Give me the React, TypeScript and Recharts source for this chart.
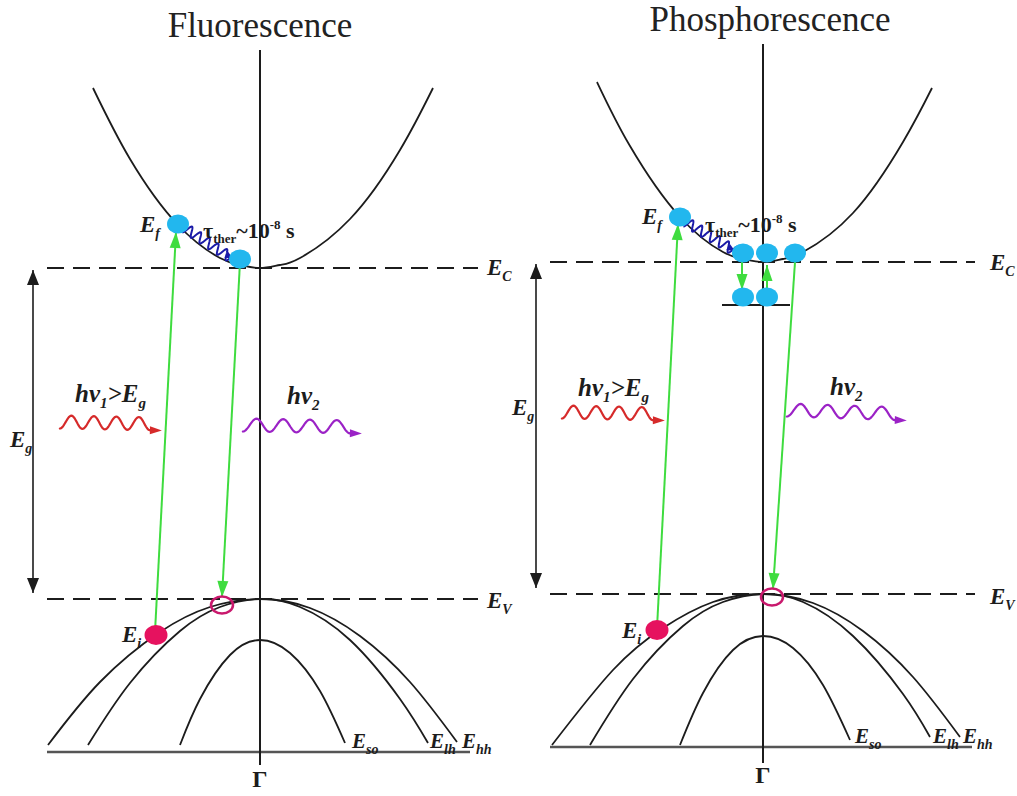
import React from 'react';
import { ComposedChart, Line, Scatter, XAxis, YAxis } from 'recharts';

type Pt = { k: number; E: number };
type Seg = { from: Pt; to: Pt };
type Lab = { k: number; E: number; kind: string; text: string; sub?: string };

// ---------------- Fluorescence panel (k = wave vector, E = energy, Ev = 0) ----------------
const fluoConduction: Pt[] = [
  { k: -1.67, E: 5.11 }, { k: -1.3, E: 4.4 }, { k: -0.82, E: 3.74 }, { k: -0.4, E: 3.41 },
  { k: -0.2, E: 3.34 }, { k: 0, E: 3.31 }, { k: 0.2, E: 3.34 }, { k: 0.4, E: 3.41 },
  { k: 0.9, E: 3.8 }, { k: 1.4, E: 4.49 }, { k: 1.73, E: 5.11 },
];
const fluoHeavyHole: Pt[] = [
  { k: -2.12, E: -1.46 }, { k: -1.6, E: -0.83 }, { k: -1.0, E: -0.33 }, { k: -0.5, E: -0.08 },
  { k: 0, E: 0 }, { k: 0.5, E: -0.09 }, { k: 1.0, E: -0.37 }, { k: 1.5, E: -0.83 }, { k: 1.97, E: -1.43 },
];
const fluoLightHole: Pt[] = [
  { k: -1.72, E: -1.46 }, { k: -1.3, E: -0.84 }, { k: -0.8, E: -0.32 }, { k: -0.4, E: -0.08 },
  { k: 0, E: 0 }, { k: 0.4, E: -0.08 }, { k: 0.9, E: -0.41 }, { k: 1.4, E: -1.0 }, { k: 1.68, E: -1.44 },
];
const fluoSplitOff: Pt[] = [
  { k: -0.8, E: -1.46 }, { k: -0.6, E: -1.0 }, { k: -0.3, E: -0.56 }, { k: 0, E: -0.41 },
  { k: 0.3, E: -0.54 }, { k: 0.6, E: -0.92 }, { k: 0.85, E: -1.44 },
];
const fluoEc = 3.31;
const fluoEv = 0;
const fluoLevelSpan = [-2.13, 2.18];
const fluoBaseline: Seg = { from: { k: -2.13, E: -1.53 }, to: { k: 2.1, E: -1.53 } };
const fluoGamma: Seg = { from: { k: 0, E: 5.49 }, to: { k: 0, E: -1.66 } };
const fluoGap: Seg = { from: { k: -2.27, E: 3.29 }, to: { k: -2.27, E: 0.06 } };
const fluoElectrons: Pt[] = [{ k: -0.82, E: 3.75 }, { k: -0.2, E: 3.4 }];
const fluoInitial: Pt[] = [{ k: -1.04, E: -0.36 }];
const fluoHoles: Pt[] = [{ k: -0.38, E: -0.06 }];
const fluoTransitions: Seg[] = [
  { from: { k: -1.05, E: -0.33 }, to: { k: -0.84, E: 3.67 } },
  { from: { k: -0.2, E: 3.37 }, to: { k: -0.38, E: 0.02 } },
];
const fluoRelax: Seg[] = [{ from: { k: -0.75, E: 3.71 }, to: { k: -0.27, E: 3.4 } }];
const fluoPhotonIn: Seg[] = [{ from: { k: -2.0, E: 1.77 }, to: { k: -0.98, E: 1.75 } }];
const fluoPhotonOut: Seg[] = [{ from: { k: -0.17, E: 1.74 }, to: { k: 1.02, E: 1.72 } }];
const fluoTraps: Seg[] = [];
const fluoLabels: Lab[] = [
  { k: 0, E: 5.62, kind: 'title', text: 'Fluorescence' },
  { k: 0, E: -1.88, kind: 'gamma', text: 'Γ' },
  { k: 2.27, E: 3.24, kind: 'E', text: 'E', sub: 'C' },
  { k: 2.27, E: -0.09, kind: 'E', text: 'E', sub: 'V' },
  { k: -2.5, E: 1.52, kind: 'E', text: 'E', sub: 'g' },
  { k: -1.2, E: 3.67, kind: 'E', text: 'E', sub: 'f' },
  { k: -1.38, E: -0.43, kind: 'E', text: 'E', sub: 'i' },
  { k: 0.92, E: -1.49, kind: 'Es', text: 'E', sub: 'so' },
  { k: 1.7, E: -1.49, kind: 'Es', text: 'E', sub: 'lh' },
  { k: 2.02, E: -1.49, kind: 'Es', text: 'E', sub: 'hh' },
  { k: -1.85, E: 1.97, kind: 'hv1', text: 'hv' },
  { k: 0.27, E: 1.95, kind: 'hv2', text: 'hv' },
  { k: -0.57, E: 3.61, kind: 'tau', text: 'τ' },
];

// ---------------- Phosphorescence panel ----------------
const phosConduction: Pt[] = [
  { k: -1.66, E: 5.12 }, { k: -1.33, E: 4.48 }, { k: -0.83, E: 3.77 }, { k: -0.4, E: 3.42 },
  { k: -0.2, E: 3.35 }, { k: 0, E: 3.32 }, { k: 0.2, E: 3.35 }, { k: 0.4, E: 3.42 },
  { k: 0.9, E: 3.81 }, { k: 1.4, E: 4.52 }, { k: 1.69, E: 5.06 },
];
const phosHeavyHole: Pt[] = [
  { k: -2.11, E: -1.51 }, { k: -1.5, E: -0.76 }, { k: -1.0, E: -0.34 }, { k: -0.5, E: -0.08 },
  { k: 0, E: 0 }, { k: 0.5, E: -0.09 }, { k: 1.0, E: -0.37 }, { k: 1.5, E: -0.83 }, { k: 1.97, E: -1.43 },
];
const phosLightHole: Pt[] = [
  { k: -1.73, E: -1.51 }, { k: -1.3, E: -0.85 }, { k: -0.8, E: -0.32 }, { k: -0.4, E: -0.08 },
  { k: 0, E: 0 }, { k: 0.4, E: -0.08 }, { k: 0.9, E: -0.42 }, { k: 1.4, E: -1.0 }, { k: 1.67, E: -1.43 },
];
const phosSplitOff: Pt[] = [
  { k: -0.83, E: -1.51 }, { k: -0.6, E: -0.99 }, { k: -0.3, E: -0.56 }, { k: 0, E: -0.42 },
  { k: 0.3, E: -0.54 }, { k: 0.6, E: -0.91 }, { k: 0.87, E: -1.46 },
];
const phosEc = 3.32;
const phosEv = 0;
const phosLevelSpan = [-2.13, 2.12];
const phosBaseline: Seg = { from: { k: -2.13, E: -1.53 }, to: { k: 2.09, E: -1.53 } };
const phosGamma: Seg = { from: { k: 0, E: 5.5 }, to: { k: 0, E: -1.69 } };
const phosGap: Seg = { from: { k: -2.27, E: 3.3 }, to: { k: -2.27, E: 0.06 } };
const phosElectrons: Pt[] = [
  { k: -0.83, E: 3.77 }, { k: -0.2, E: 3.41 }, { k: 0.04, E: 3.41 }, { k: 0.32, E: 3.41 },
  { k: -0.2, E: 2.97 }, { k: 0.04, E: 2.97 },
];
const phosInitial: Pt[] = [{ k: -1.06, E: -0.36 }];
const phosHoles: Pt[] = [{ k: 0.09, E: -0.03 }];
const phosTransitions: Seg[] = [
  { from: { k: -1.06, E: -0.34 }, to: { k: -0.85, E: 3.7 } },
  { from: { k: 0.32, E: 3.32 }, to: { k: 0.1, E: 0.05 } },
  { from: { k: -0.21, E: 3.32 }, to: { k: -0.21, E: 3.04 } },
  { from: { k: 0.04, E: 3.0 }, to: { k: 0.04, E: 3.29 } },
];
const phosRelax: Seg[] = [{ from: { k: -0.77, E: 3.72 }, to: { k: -0.28, E: 3.43 } }];
const phosPhotonIn: Seg[] = [{ from: { k: -2.01, E: 1.82 }, to: { k: -0.98, E: 1.8 } }];
const phosPhotonOut: Seg[] = [{ from: { k: 0.24, E: 1.84 }, to: { k: 1.44, E: 1.8 } }];
const phosTraps: Seg[] = [{ from: { k: -0.41, E: 2.89 }, to: { k: 0.27, E: 2.89 } }];
const phosLabels: Lab[] = [
  { k: 0.07, E: 5.63, kind: 'title', text: 'Phosphorescence' },
  { k: 0, E: -1.89, kind: 'gamma', text: 'Γ' },
  { k: 2.27, E: 3.24, kind: 'E', text: 'E', sub: 'C' },
  { k: 2.27, E: -0.1, kind: 'E', text: 'E', sub: 'V' },
  { k: -2.51, E: 1.79, kind: 'E', text: 'E', sub: 'g' },
  { k: -1.21, E: 3.7, kind: 'E', text: 'E', sub: 'f' },
  { k: -1.41, E: -0.44, kind: 'E', text: 'E', sub: 'i' },
  { k: 0.92, E: -1.49, kind: 'Es', text: 'E', sub: 'so' },
  { k: 1.7, E: -1.49, kind: 'Es', text: 'E', sub: 'lh' },
  { k: 2.0, E: -1.49, kind: 'Es', text: 'E', sub: 'hh' },
  { k: -1.85, E: 1.98, kind: 'hv1', text: 'hv' },
  { k: 0.67, E: 1.99, kind: 'hv2', text: 'hv' },
  { k: -0.58, E: 3.62, kind: 'tau', text: 'τ' },
];

// ---------------- styling / helpers ----------------
const H = 796;
const E_DOMAIN: [number, number] = [-1.97, 5.99];
const SERIF = "'Liberation Serif', 'Times New Roman', Times, serif";
const INK = '#1c1c1c';
const GREEN = '#3fdc3f';
const CYAN = '#22b7ee';
const MAGENTA = '#e6125f';
const RED = '#d62a2a';
const PURPLE = '#9b22c6';
const BLUE = '#1b1ba8';

type XY = { x: number; y: number };

function headPoly(tip: XY, from: XY, len: number, half: number) {
  const dx = tip.x - from.x;
  const dy = tip.y - from.y;
  const L = Math.hypot(dx, dy) || 1;
  const ux = dx / L, uy = dy / L;
  const nx = -uy, ny = ux;
  const bx = tip.x - ux * len, by = tip.y - uy * len;
  return `${tip.x},${tip.y} ${bx + nx * half},${by + ny * half} ${bx - nx * half},${by - ny * half}`;
}

function wavy(a: XY, b: XY, amp: number, periods: number) {
  const dx = b.x - a.x, dy = b.y - a.y;
  const L = Math.hypot(dx, dy) || 1;
  const ux = dx / L, uy = dy / L;
  const nx = -uy, ny = ux;
  const steps = Math.round(periods * 28);
  let d = '';
  let end: XY = a;
  for (let i = 0; i <= steps; i++) {
    const t = i / steps;
    const o = amp * Math.cos(2 * Math.PI * periods * t);
    const x = a.x + ux * L * t + nx * o;
    const y = a.y + uy * L * t + ny * o;
    d += (i === 0 ? 'M' : 'L') + x.toFixed(2) + ',' + y.toFixed(2);
    end = { x, y };
  }
  return { d, end, ux, uy };
}

function makeSegRenderer(draw: (a: XY, b: XY) => React.ReactNode) {
  let start: XY = { x: 0, y: 0 };
  return (props: any) => {
    const { cx, cy, index, points } = props;
    if (index === 0) {
      start = { x: cx, y: cy };
      return <g key={`s${index}`} />;
    }
    const a = Array.isArray(points) && points.length > 1 ? { x: points[0].x, y: points[0].y } : start;
    return <g key={`s${index}`}>{draw(a, { x: cx, y: cy })}</g>;
  };
}

const greenHead = () =>
  makeSegRenderer((a, b) => <polygon points={headPoly(b, a, 16, 5.5)} fill={GREEN} />);

const doubleHead = () =>
  makeSegRenderer((a, b) => (
    <g>
      <polygon points={headPoly(b, a, 15, 6)} fill={INK} />
      <polygon points={headPoly(a, b, 15, 6)} fill={INK} />
    </g>
  ));

const photon = (color: string) =>
  makeSegRenderer((a, b) => {
    const headLen = 12;
    const L = Math.hypot(b.x - a.x, b.y - a.y) || 1;
    const bb = { x: b.x - ((b.x - a.x) / L) * headLen, y: b.y - ((b.y - a.y) / L) * headLen };
    const w = wavy(a, bb, 6.5, 4);
    const tip = { x: w.end.x + w.ux * headLen, y: w.end.y + w.uy * headLen };
    return (
      <g>
        <path d={w.d} fill="none" stroke={color} strokeWidth={2.2} strokeLinecap="round" />
        <polygon points={headPoly(tip, w.end, headLen, 4)} fill={color} />
      </g>
    );
  });

const coil = () =>
  makeSegRenderer((a, b) => {
    const w = wavy(a, b, 5, 5.5);
    return (
      <g>
        <path d={w.d} fill="none" stroke={BLUE} strokeWidth={2} />
        <polygon points={headPoly(b, { x: b.x - w.ux * 8, y: b.y - w.uy * 8 }, 8, 3.5)} fill={BLUE} />
      </g>
    );
  });

function renderLabel(p: any) {
  const { cx, cy, payload } = p;
  const l: Lab = payload;
  if (l.kind === 'title') {
    return (
      <text x={cx} y={cy} textAnchor="middle" fontFamily={SERIF} fontSize={35} fill="#222">
        {l.text}
      </text>
    );
  }
  if (l.kind === 'gamma') {
    return (
      <text x={cx} y={cy} textAnchor="middle" fontFamily={SERIF} fontWeight="bold" fontSize={24} fill={INK}>
        {l.text}
      </text>
    );
  }
  if (l.kind === 'E' || l.kind === 'Es') {
    const size = l.kind === 'E' ? 23 : 21;
    return (
      <text x={cx} y={cy} fontFamily={SERIF} fontWeight="bold" fontStyle="italic" fontSize={size} fill={INK}>
        {l.text}
        <tspan dy={6} fontSize={14}>{l.sub}</tspan>
      </text>
    );
  }
  if (l.kind === 'hv1') {
    return (
      <text x={cx} y={cy} fontFamily={SERIF} fontWeight="bold" fontStyle="italic" fontSize={25} fill={INK}>
        {l.text}
        <tspan dy={6} fontSize={15}>1</tspan>
        <tspan dy={-6}>{'>E'}</tspan>
        <tspan dy={6} fontSize={15}>g</tspan>
      </text>
    );
  }
  if (l.kind === 'hv2') {
    return (
      <text x={cx} y={cy} fontFamily={SERIF} fontWeight="bold" fontStyle="italic" fontSize={25} fill={INK}>
        {l.text}
        <tspan dy={6} fontSize={15}>2</tspan>
      </text>
    );
  }
  // tau
  return (
    <text x={cx} y={cy} fontFamily={SERIF} fontWeight="bold" fontSize={22} fill={INK}>
      {l.text}
      <tspan dy={5} fontSize={13}>ther</tspan>
      <tspan dy={-5}>~10</tspan>
      <tspan dy={-9} fontSize={13}>-8</tspan>
      <tspan dy={9}> s</tspan>
    </text>
  );
}

const electronShape = (p: any) => <ellipse cx={p.cx} cy={p.cy} rx={11} ry={9.5} fill={CYAN} />;
const initialShape = (p: any) => <ellipse cx={p.cx} cy={p.cy} rx={11.5} ry={10} fill={MAGENTA} />;
const holeShape = (p: any) => (
  <ellipse cx={p.cx} cy={p.cy} rx={11} ry={8.5} fill="none" stroke="#c9196d" strokeWidth={2.5} />
);

type Spec = {
  bands: Pt[][];
  Ec: number;
  Ev: number;
  span: number[];
  baseline: Seg;
  gamma: Seg;
  gap: Seg;
  electrons: Pt[];
  initial: Pt[];
  holes: Pt[];
  transitions: Seg[];
  relax: Seg[];
  photonIn: Seg[];
  photonOut: Seg[];
  traps: Seg[];
  labels: Lab[];
};

const segData = (s: Seg) => [s.from, s.to];

function Panel({ spec, width, kDomain }: { spec: Spec; width: number; kDomain: [number, number] }) {
  const common = { dataKey: 'E', isAnimationActive: false, activeDot: false as const, legendType: 'none' as const };
  return (
    <ComposedChart width={width} height={H} margin={{ top: 0, right: 0, bottom: 0, left: 0 }}>
      <XAxis type="number" dataKey="k" domain={kDomain} hide />
      <YAxis type="number" dataKey="E" domain={E_DOMAIN} hide />
      {/* energy levels */}
      <Line {...common} data={[{ k: spec.span[0], E: spec.Ec }, { k: spec.span[1], E: spec.Ec }]} type="linear"
        stroke={INK} strokeWidth={2} strokeDasharray="17 9" dot={false} />
      <Line {...common} data={[{ k: spec.span[0], E: spec.Ev }, { k: spec.span[1], E: spec.Ev }]} type="linear"
        stroke={INK} strokeWidth={2} strokeDasharray="17 9" dot={false} />
      {spec.traps.map((s, i) => (
        <Line key={`t${i}`} {...common} data={segData(s)} type="linear" stroke={INK} strokeWidth={1.8} dot={false} />
      ))}
      {/* baseline and Gamma axis */}
      <Line {...common} data={segData(spec.baseline)} type="linear" stroke="#555" strokeWidth={2.5} dot={false} />
      <Line {...common} data={segData(spec.gamma)} type="linear" stroke={INK} strokeWidth={2} dot={false} />
      {/* bands */}
      {spec.bands.map((b, i) => (
        <Line key={`b${i}`} {...common} data={b} type="natural" stroke={INK} strokeWidth={1.8} dot={false} />
      ))}
      {/* band gap arrow */}
      <Line {...common} data={segData(spec.gap)} type="linear" stroke={INK} strokeWidth={1.6} dot={doubleHead()} />
      {/* optical transitions */}
      {spec.transitions.map((s, i) => (
        <Line key={`g${i}`} {...common} data={segData(s)} type="linear" stroke={GREEN} strokeWidth={2} dot={greenHead()} />
      ))}
      {spec.relax.map((s, i) => (
        <Line key={`r${i}`} {...common} data={segData(s)} type="linear" stroke="none" dot={coil()} />
      ))}
      {spec.photonIn.map((s, i) => (
        <Line key={`pi${i}`} {...common} data={segData(s)} type="linear" stroke="none" dot={photon(RED)} />
      ))}
      {spec.photonOut.map((s, i) => (
        <Line key={`po${i}`} {...common} data={segData(s)} type="linear" stroke="none" dot={photon(PURPLE)} />
      ))}
      {/* carriers */}
      <Scatter data={spec.electrons} dataKey="E" shape={electronShape} isAnimationActive={false} legendType="none" />
      <Scatter data={spec.initial} dataKey="E" shape={initialShape} isAnimationActive={false} legendType="none" />
      <Scatter data={spec.holes} dataKey="E" shape={holeShape} isAnimationActive={false} legendType="none" />
      {/* text */}
      <Scatter data={spec.labels} dataKey="E" shape={renderLabel} isAnimationActive={false} legendType="none" />
    </ComposedChart>
  );
}

const fluoSpec: Spec = {
  bands: [fluoConduction, fluoHeavyHole, fluoLightHole, fluoSplitOff],
  Ec: fluoEc, Ev: fluoEv, span: fluoLevelSpan, baseline: fluoBaseline, gamma: fluoGamma, gap: fluoGap,
  electrons: fluoElectrons, initial: fluoInitial, holes: fluoHoles, transitions: fluoTransitions,
  relax: fluoRelax, photonIn: fluoPhotonIn, photonOut: fluoPhotonOut, traps: fluoTraps, labels: fluoLabels,
};

const phosSpec: Spec = {
  bands: [phosConduction, phosHeavyHole, phosLightHole, phosSplitOff],
  Ec: phosEc, Ev: phosEv, span: phosLevelSpan, baseline: phosBaseline, gamma: phosGamma, gap: phosGap,
  electrons: phosElectrons, initial: phosInitial, holes: phosHoles, transitions: phosTransitions,
  relax: phosRelax, photonIn: phosPhotonIn, photonOut: phosPhotonOut, traps: phosTraps, labels: phosLabels,
};

export default function App() {
  return (
    <div style={{ position: 'absolute', left: 0, top: 0, width: 1017, height: 796, background: '#fff', overflow: 'hidden' }}>
      <div style={{ position: 'absolute', left: 0, top: 0 }}>
        <Panel spec={fluoSpec} width={540} kDomain={[-2.6, 2.8]} />
      </div>
      <div style={{ position: 'absolute', left: 503, top: -5 }}>
        <Panel spec={phosSpec} width={514} kDomain={[-2.6, 2.54]} />
      </div>
    </div>
  );
}
